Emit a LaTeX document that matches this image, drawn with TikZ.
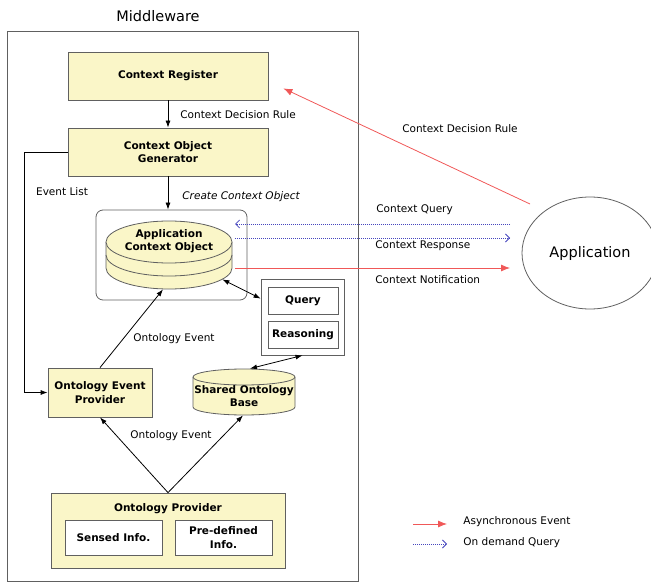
\documentclass[tikz,border=0pt]{standalone}
\usepackage{fontspec}
\setmainfont{DejaVu Sans}
\usetikzlibrary{positioning}
\usetikzlibrary{calc}
\usetikzlibrary{arrows.meta}
\usetikzlibrary{shapes.geometric}
\definecolor{boxfill}{RGB}{250,246,200}
\definecolor{linegray}{RGB}{96,96,96}
\definecolor{asyncred}{RGB}{240,88,88}
\definecolor{queryblue}{RGB}{70,70,190}

\begin{document}
\begin{tikzpicture}[x=1pt, y=-1pt, >={Latex[length=7pt,width=5pt]}, line width=0.8pt, font=\fontsize{10.5}{13.5}\selectfont]
    \tikzstyle{block}=[draw=linegray, fill=boxfill, rectangle, minimum width=200pt, minimum height=48pt, inner sep=0pt, align=center, font=\fontsize{10.5}{13.5}\selectfont\bfseries]
    \tikzstyle{subblock}=[draw=linegray, fill=white, rectangle, minimum width=70pt, minimum height=27pt, inner sep=0pt, align=center, font=\fontsize{10.5}{13.5}\selectfont\bfseries]
    \tikzstyle{anchorbox}=[rectangle, inner sep=0pt]
    \tikzstyle{lbl}=[inner sep=0pt, anchor=west]
    \tikzstyle{async}=[draw=asyncred, -{Latex[length=9pt,width=7pt]}]
    \tikzstyle{ondemand}=[draw=queryblue, dash pattern=on 1pt off 1pt, -{Straight Barb[length=4pt,width=8pt]}]

    \useasboundingbox (0,0) rectangle (651,583);

    % middleware frame
    \node[draw=linegray, minimum width=351pt, minimum height=550pt, inner sep=0pt] (mw) at (182.5,306) {};
    \node[font=\fontsize{14.5}{17}\selectfont] (mwtitle) at (158,16) {Middleware};

    \node[block] (reg) at (168,76) {Context Register};
    \node[block] (cog) at (168,152) {Context Object\\Generator};

    % application context object
    \node[draw=linegray, rounded corners=7pt, minimum width=151pt, minimum height=90pt, inner sep=0pt] (acobox) at (171.5,255) {};
    \fill[boxfill] (106,242) -- (106,268) arc[start angle=180, end angle=360, x radius=63pt, y radius=21pt] -- (232,242) -- cycle;
    \draw[linegray] (106,242) -- (106,268) arc[start angle=180, end angle=360, x radius=63pt, y radius=21pt] -- (232,242);
    \draw[linegray] (106,255) arc[start angle=180, end angle=360, x radius=63pt, y radius=21pt];
    \filldraw[fill=boxfill, draw=linegray] (169,242) ellipse[x radius=63pt, y radius=21pt];
    \node[anchorbox, minimum width=126pt, minimum height=67pt] (stack) at (169,255.5) {};
    \node[align=center, inner sep=0pt, font=\fontsize{10.5}{13.5}\selectfont\bfseries] (acotext) at (169,241) {Application\\Context Object};

    % query / reasoning
    \node[draw=linegray, fill=white, minimum width=83pt, minimum height=76pt, inner sep=0pt] (qr) at (302.5,317) {};
    \node[subblock] (query) at (303,300.5) {Query};
    \node[subblock] (reason) at (303,334.5) {Reasoning};

    \node[block, minimum width=104pt, minimum height=49pt] (oep) at (100,392.5) {Ontology Event\\Provider};

    % shared ontology base
    \fill[boxfill] (193,377) -- (193,407) arc[start angle=180, end angle=360, x radius=51pt, y radius=8pt] -- (295,377) -- cycle;
    \draw[linegray] (193,377) -- (193,407) arc[start angle=180, end angle=360, x radius=51pt, y radius=8pt] -- (295,377);
    \filldraw[fill=boxfill, draw=linegray] (244,377) ellipse[x radius=51pt, y radius=8pt];
    \node[anchorbox, minimum width=102pt, minimum height=46pt] (sob) at (244,392) {};
    \node[align=center, inner sep=0pt, font=\fontsize{10.5}{13.5}\selectfont\bfseries] (sobtext) at (244,396) {Shared Ontology\\Base};

    % ontology provider
    \node[block, minimum width=234pt, minimum height=75pt] (op) at (168,530.5) {};
    \node[inner sep=0pt, font=\fontsize{10.5}{13.5}\selectfont\bfseries] (optitle) at (168,509) {Ontology Provider};
    \node[subblock, minimum width=97pt, minimum height=35pt] (sensed) at (113.5,537.5) {Sensed Info.};
    \node[subblock, minimum width=97pt, minimum height=35pt] (predef) at (223.5,537.5) {Pre-defined\\Info.};

    \node[ellipse, draw=linegray, minimum width=136pt, minimum height=112pt, inner sep=0pt, font=\fontsize{14.5}{17}\selectfont] (app) at (590,253) {Application};

    % inner connectors
    \draw[->] (reg) -- (cog);
    \node[lbl] (lblrule) at (180,115) {Context Decision Rule};
    \draw[->] (cog.south) -- (cog.south |- acobox.north);
    \node[lbl, font=\fontsize{10.5}{13.5}\selectfont\itshape] (lblcreate) at (182,197) {Create Context Object};
    \draw[->] (cog.west) -- ++(-43,0) |- (oep.west);
    \node (lblevents) at (62,192) {Event List};
    \draw[->] (oep.north) -- ($(stack.south)+(-6,0)$);
    \node (lbloe1) at (174,339) {Ontology Event};
    \draw[<->] ($(stack.south east)+(-10,-10)$) -- ($(qr.north west)+(0,20)$);
    \draw[<->] ($(sob.north)+(6,0)$) -- (qr.south);
    \draw[->] (op.north) -- (oep.south);
    \draw[->] (op.north) -- ($(sob.south)+(-1,0)$);
    \node (lbloe2) at (171,436) {Ontology Event};

    % application connectors
    \coordinate (appnw) at (530,204);
    \coordinate (cqR) at (510,224);
    \coordinate (cqL) at (235,224);
    \coordinate (crL) at (235,238);
    \coordinate (crR) at (510,238);
    \coordinate (cnL) at (235,268);
    \coordinate (cnR) at (510,268);
    \draw[async] (appnw) -- ($(reg.south east)+(15,-12)$);
    \node (lblrule2) at (460,129) {Context Decision Rule};
    \draw[ondemand] (cqR) -- (cqL);
    \node[lbl] (lblquery) at (376,210) {Context Query};
    \draw[ondemand] (crL) -- (crR);
    \node[lbl] (lblresp) at (375,246) {Context Response};
    \draw[async] (cnL) -- (cnR);
    \node[lbl] (lblnotif) at (375,280) {Context Notification};

    % legend
    \coordinate (lgA1) at (413,524);
    \coordinate (lgA2) at (447,524);
    \coordinate (lgB1) at (413,544);
    \coordinate (lgB2) at (447,544);
    \draw[async] (lgA1) -- (lgA2);
    \node[lbl] (lgAtext) at (463,522) {Asynchronous Event};
    \draw[ondemand] (lgB1) -- (lgB2);
    \node[lbl] (lgBtext) at (463,543) {On demand Query};
\end{tikzpicture}
\end{document}
